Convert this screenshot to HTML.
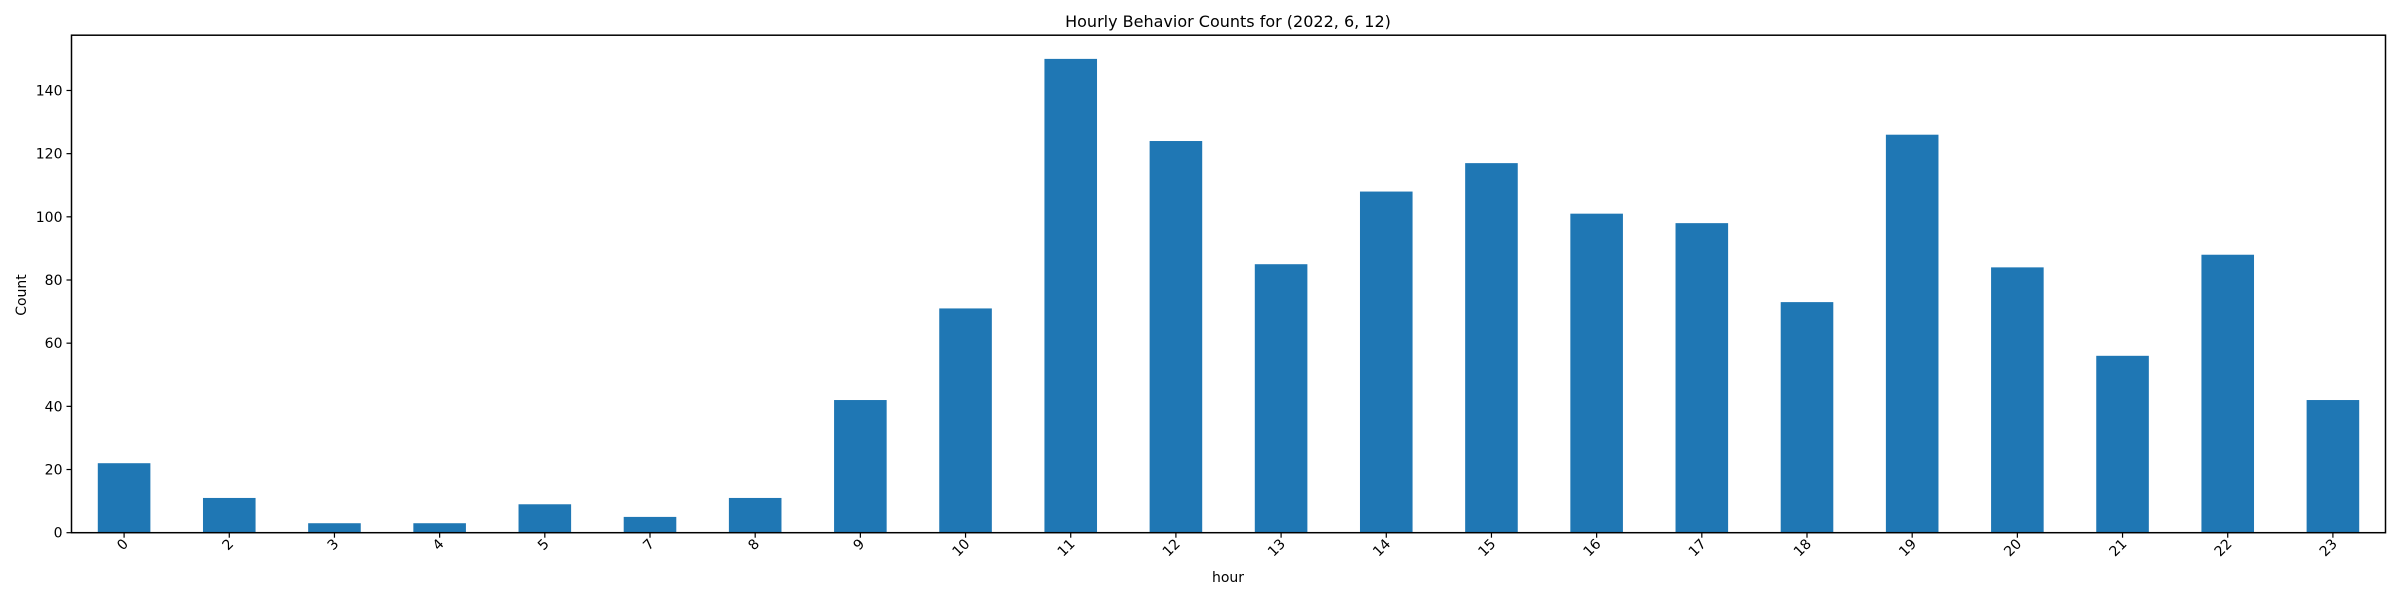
<!DOCTYPE html>
<html><head><meta charset="utf-8"><style>
html,body{margin:0;padding:0;background:#fff;}
svg{display:block;font-family:"DejaVu Sans","Liberation Sans",sans-serif;}
</style></head><body>
<svg id="chart" width="2400" height="600" viewBox="0 0 2400 600" xmlns="http://www.w3.org/2000/svg">
<rect x="0" y="0" width="2400" height="600" fill="#fff"/>
<text x="1228" y="27" font-size="16" text-anchor="middle" fill="#000">Hourly Behavior Counts for (2022, 6, 12)</text>
<g id="bars"></g>
<g id="yticks"></g>
<g id="xticks"></g>
<rect x="71.5" y="35.2" width="2314" height="497.5" fill="none" stroke="#000" stroke-width="1.5"/>
<text x="1228" y="582" font-size="14" text-anchor="middle" fill="#000">hour</text>
<text transform="translate(26,295) rotate(-90)" font-size="14" text-anchor="middle" fill="#000">Count</text>
</svg>
<script>
const categories = ["0","2","3","4","5","7","8","9","10","11","12","13","14","15","16","17","18","19","20","21","22","23"];
const counts = [22,11,3,3,9,5,11,42,71,150,124,85,108,117,101,98,73,126,84,56,88,42];
const yTickValues = [0,20,40,60,80,100,120,140];
const yMax = 157.5;

const NS = "http://www.w3.org/2000/svg";
const L = 71.5, R = 2385.5, T = 35.2, B = 532.7;
const step = (R - L) / categories.length;
function xScale(i){ return L + step * (i + 0.5); }
function yScale(v){ return B - (B - T) * v / yMax; }

const bars = document.getElementById('bars');
counts.forEach((v, i) => {
  const r = document.createElementNS(NS, 'rect');
  
  
  const w = step * 0.5;
  r.setAttribute('x', xScale(i) - w / 2);
  r.setAttribute('y', yScale(v));
  r.setAttribute('width', w);
  r.setAttribute('height', B - yScale(v));
  r.setAttribute('fill', '#1f77b4');
  bars.appendChild(r);
});

const yg = document.getElementById('yticks');
yTickValues.forEach(v => {
  const y = yScale(v);
  const ln = document.createElementNS(NS, 'line');
  
  
  ln.setAttribute('x1', L - 5); ln.setAttribute('x2', L);
  ln.setAttribute('y1', y); ln.setAttribute('y2', y);
  ln.setAttribute('stroke', '#000'); ln.setAttribute('stroke-width', '1.2');
  yg.appendChild(ln);
  const t = document.createElementNS(NS, 'text');
  
  
  t.setAttribute('x', L - 9); t.setAttribute('y', y + 5);
  t.setAttribute('font-size', '14'); t.setAttribute('text-anchor', 'end');
  t.textContent = v;
  yg.appendChild(t);
});

const xg = document.getElementById('xticks');
categories.forEach((c, i) => {
  const x = xScale(i);
  const ln = document.createElementNS(NS, 'line');
  
  
  ln.setAttribute('x1', x); ln.setAttribute('x2', x);
  ln.setAttribute('y1', B); ln.setAttribute('y2', B + 5);
  ln.setAttribute('stroke', '#000'); ln.setAttribute('stroke-width', '1.2');
  xg.appendChild(ln);
  const t = document.createElementNS(NS, 'text');
  
  
  t.setAttribute('transform', 'translate(' + (x + 5) + ',' + (B + 12) + ') rotate(-45)');
  t.setAttribute('font-size', '14'); t.setAttribute('text-anchor', 'end');
  t.textContent = c;
  xg.appendChild(t);
});
</script>
</body></html>
